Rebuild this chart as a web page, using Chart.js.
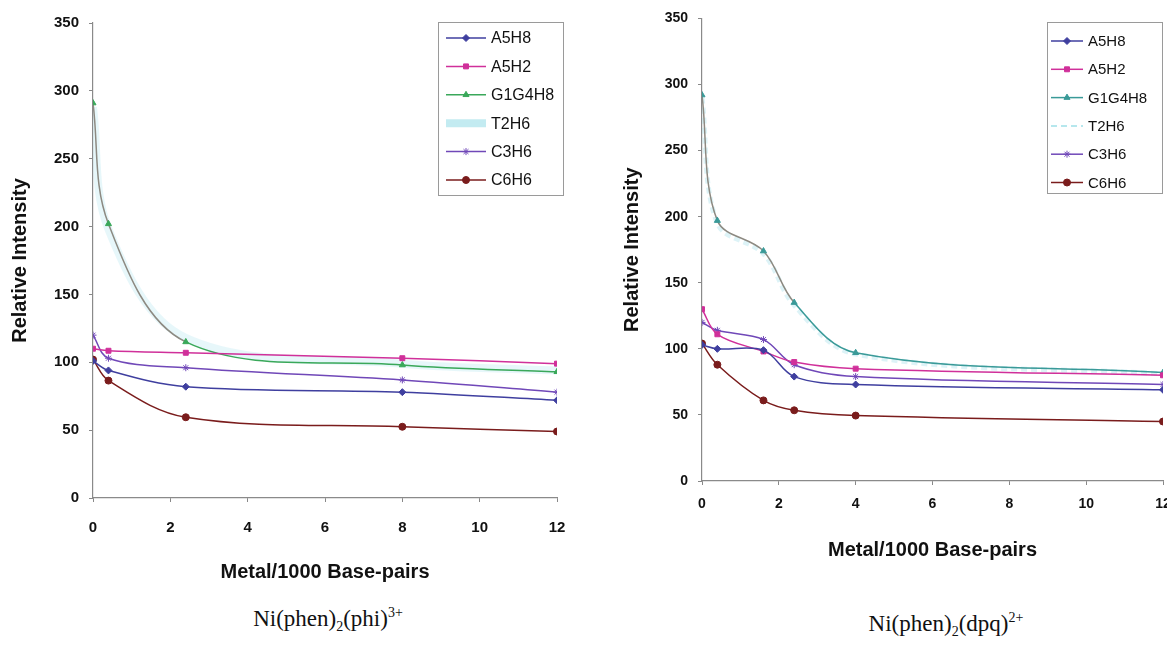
<!DOCTYPE html>
<html>
<head>
<meta charset="utf-8">
<script src="https://cdn.jsdelivr.net/npm/chart.js@4.4.1/dist/chart.umd.min.js"></script>
<style>
  body { margin: 0; background: #fff; width: 1167px; height: 650px; position: relative; overflow: hidden; }
  canvas { position: absolute; top: 0; }
  #leftChart { left: 0; }
  #rightChart { left: 600px; }
  .caption { position: absolute; font-family: "Liberation Serif", "Times New Roman", serif; font-size: 23px; color: #111; white-space: nowrap; transform: translateX(-50%); }
  .caption sub, .caption sup { font-size: 14px; }
</style>
</head>
<body>
<canvas id="leftChart" width="600" height="600"></canvas>
<canvas id="rightChart" width="600" height="600"></canvas>
<div class="caption" style="left:328px; top:605px;">Ni(phen)<sub>2</sub>(phi)<sup>3+</sup></div>
<div class="caption" style="left:946px; top:610px;">Ni(phen)<sub>2</sub>(dpq)<sup>2+</sup></div>
<script>
// series names
const seriesNames = ['A5H8', 'A5H2', 'G1G4H8', 'T2H6', 'C3H6', 'C6H6'];

// left chart: Ni(phen)2(phi)3+
const leftX = [0, 0.4, 2.4, 8, 12];
const leftA5H8 = [101, 94, 82, 78, 72];
const leftA5H2 = [110, 108.5, 107, 103, 99];
const leftG1G4H8 = [291, 202, 115, 98, 93];
const leftT2H6 = [288, 198, 118, 99, 94];
const leftC3H6 = [120, 103, 96, 87, 78];
const leftC6H6 = [102, 86.5, 59.5, 52.5, 49];

// right chart: Ni(phen)2(dpq)2+
const rightX = [0, 0.4, 1.6, 2.4, 4, 12];
const rightA5H8 = [103, 100, 99, 79, 73, 69];
const rightA5H2 = [130, 111, 98, 90, 85, 80];
const rightG1G4H8 = [292, 197, 174, 135, 97, 82];
const rightT2H6 = [290, 195, 172, 133, 96, 81];
const rightC3H6 = [120, 114, 107, 88, 79, 73];
const rightC6H6 = [104, 88, 61, 53.5, 49.5, 45];

const yTicks = [0, 50, 100, 150, 200, 250, 300, 350];
const xTicks = [0, 2, 4, 6, 8, 10, 12];

function pts(xs, ys) {
    return xs.map((x, i) => ({ x: x, y: ys[i] }));
}

// draws the boxed legend at a fixed spot, like the Excel one
const boxLegend = {
    id: 'boxLegend',
    afterDraw(chart, args, opts) {
        const ctx = chart.ctx;
        ctx.save();
        ctx.strokeStyle = '#9a9a9a';
        ctx.lineWidth = 1;
        ctx.strokeRect(opts.x + 0.5, opts.y + 0.5, opts.w, opts.h);
        ctx.font = opts.font;
        ctx.textBaseline = 'middle';
        chart.data.datasets.forEach((ds, i) => {
            const y = opts.y + opts.first + i * opts.step;
            const x0 = opts.x + opts.lineStart;
            const x1 = x0 + opts.lineLen;
            ctx.strokeStyle = ds.legendColor || ds.borderColor;
            ctx.lineWidth = ds.legendWidth || 1.5;
            ctx.setLineDash(ds.legendDash || []);
            ctx.beginPath();
            ctx.moveTo(x0, y);
            ctx.lineTo(x1, y);
            ctx.stroke();
            ctx.setLineDash([]);
            if (ds.pointRadius > 0) {
                ctx.fillStyle = ds.pointBackgroundColor;
                ctx.strokeStyle = ds.pointBorderColor;
                ctx.lineWidth = 1;
                Chart.helpers.drawPoint(ctx, { pointStyle: ds.pointStyle, radius: 3.5, rotation: 0, borderWidth: 1 }, (x0 + x1) / 2, y);
            }
            ctx.fillStyle = '#111';
            ctx.fillText(ds.label, x1 + 5, y + 1);
        });
        ctx.restore();
    }
};

function makeDatasets(xs, sets, g1Color, t2Style) {
    const looks = [
        { color: '#3f3f9f', style: 'rectRot' },
        { color: '#d0309a', style: 'rect' },
        { color: g1Color, style: 'triangle' },
        { color: t2Style.color, style: 'circle' },
        { color: '#7048b8', style: 'star' },
        { color: '#7a1c1c', style: 'circle' }
    ];
    return sets.map((ys, i) => {
        const look = looks[i];
        const ds = {
            label: seriesNames[i],
            data: pts(xs, ys),
            borderColor: look.color,
            backgroundColor: look.color,
            borderWidth: 1.5,
            pointStyle: look.style,
            pointRadius: 3.5,
            pointBackgroundColor: look.color,
            pointBorderColor: look.color,
            pointBorderWidth: 1,
            tension: 0.35,
            order: 0
        };
        if (i === 2) {
            // the steep part of this curve scanned as grey
            ds.segment = { borderColor: c => c.p1.parsed.x <= 2.4 ? '#8d8a82' : undefined };
        }
        if (i === 3) {
            ds.borderWidth = t2Style.width;
            ds.borderDash = t2Style.dash;
            ds.pointRadius = 0;
            ds.order = 1;
            ds.legendColor = t2Style.legendColor;
            ds.legendWidth = t2Style.legendWidth;
            ds.legendDash = t2Style.dash;
        }
        return ds;
    });
}

function makeOptions(cfg) {
    return {
        responsive: false,
        animation: false,
        devicePixelRatio: 1,
        layout: { padding: cfg.padding },
        plugins: {
            legend: { display: false },
            tooltip: { enabled: false },
            boxLegend: cfg.legend
        },
        scales: {
            x: {
                type: 'linear',
                min: 0,
                max: 12,
                afterBuildTicks: s => { s.ticks = xTicks.map(v => ({ value: v })); },
                afterFit: s => { s.height = cfg.xHeight; },
                grid: { display: true, drawOnChartArea: false, tickLength: 4, color: '#888' },
                border: { color: '#8a8a8a', width: 1.2 },
                ticks: { color: '#111', font: { family: 'Liberation Sans, Arial', weight: 'bold', size: cfg.tickSize }, padding: cfg.xTickPad, maxRotation: 0 },
                title: { display: true, text: 'Metal/1000 Base-pairs', color: '#111', font: { family: 'Liberation Sans, Arial', weight: 'bold', size: 20 }, padding: { bottom: cfg.xTitlePad } }
            },
            y: {
                min: 0,
                max: 350,
                afterBuildTicks: s => { s.ticks = yTicks.map(v => ({ value: v })); },
                afterFit: s => { s.width = cfg.yWidth; },
                grid: { display: true, drawOnChartArea: false, tickLength: 4, color: '#888' },
                border: { color: '#8a8a8a', width: 1.2 },
                ticks: { color: '#111', font: { family: 'Liberation Sans, Arial', weight: 'bold', size: cfg.tickSize }, padding: 10 },
                title: { display: true, text: 'Relative Intensity', color: '#111', font: { family: 'Liberation Sans, Arial', weight: 'bold', size: 20 }, padding: { top: cfg.yTitlePad } }
            }
        }
    };
}

new Chart(document.getElementById('leftChart').getContext('2d'), {
    type: 'line',
    data: {
        datasets: makeDatasets(leftX, [leftA5H8, leftA5H2, leftG1G4H8, leftT2H6, leftC3H6, leftC6H6], '#3aa85a',
            { color: 'rgba(175, 228, 238, 0.3)', width: 8, dash: [], legendColor: 'rgba(175, 228, 236, 0.75)', legendWidth: 8 })
    },
    options: makeOptions({
        padding: { top: 23, right: 43, bottom: 0, left: 0 },
        xHeight: 102, yWidth: 93, tickSize: 15, xTickPad: 17, xTitlePad: 16, yTitlePad: 8,
        legend: { x: 438, y: 22, w: 125, h: 173, first: 16, step: 28.4, lineStart: 8, lineLen: 40, font: '16px "Liberation Sans", Arial' }
    }),
    plugins: [boxLegend]
});

// this canvas runs past the window edge so the "12" label gets cut like in the scan
new Chart(document.getElementById('rightChart').getContext('2d'), {
    type: 'line',
    data: {
        datasets: makeDatasets(rightX, [rightA5H8, rightA5H2, rightG1G4H8, rightT2H6, rightC3H6, rightC6H6], '#3a9a98',
            { color: 'rgba(170, 225, 235, 0.4)', width: 5, dash: [6, 4], legendColor: '#9fdfe8', legendWidth: 1.5 })
    },
    options: makeOptions({
        padding: { top: 15, right: 37, bottom: 0, left: 0 },
        xHeight: 119, yWidth: 102, tickSize: 14, xTickPad: 11, xTitlePad: 38, yTitlePad: 20,
        legend: { x: 447, y: 22, w: 115, h: 171, first: 19, step: 28.3, lineStart: 4, lineLen: 32, font: '15px "Liberation Sans", Arial' }
    }),
    plugins: [boxLegend]
});
</script>
</body>
</html>
